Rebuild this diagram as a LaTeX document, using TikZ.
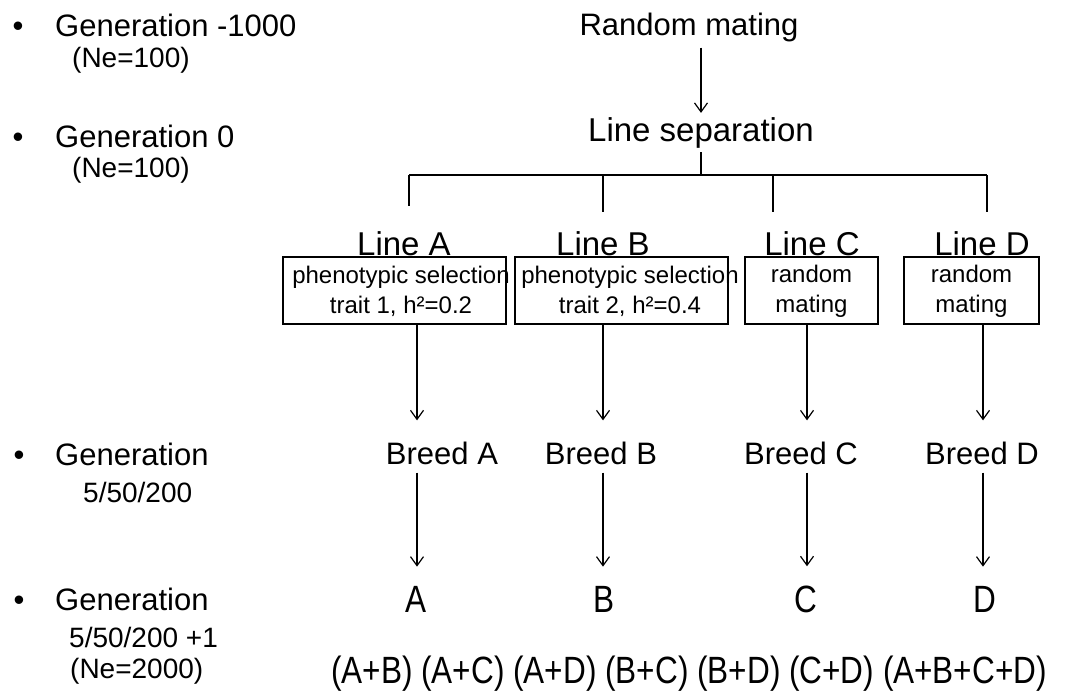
\documentclass[tikz,border=0pt]{standalone}
\usepackage{fontspec}
\setmainfont{Liberation Sans}
\newfontfamily\narrowfont[FakeStretch=0.83]{Liberation Sans}
\usetikzlibrary{arrows.meta}
\begin{document}
\begin{tikzpicture}[x=1pt,y=-1pt,
  big/.style={font=\fontsize{31}{37}\selectfont, inner sep=0pt, anchor=base},
  bigger/.style={font=\fontsize{33}{39}\selectfont, inner sep=0pt, anchor=base},
  small/.style={font=\fontsize{28}{33}\selectfont, inner sep=0pt, anchor=base west},
  boxtext/.style={font=\fontsize{24}{30}\selectfont, inner sep=0pt, align=center},
  nar/.style={font=\narrowfont\fontsize{38}{44}\selectfont, inner sep=0pt, anchor=base},
  box/.style={draw, line width=2pt, inner sep=0pt},
  conn/.style={line width=1.8pt},
  arr/.style={line width=1.2pt, -{Straight Barb[length=9pt,width=13pt]}}
]
\useasboundingbox[fill=white] (0,0) rectangle (1066,693);

% left column
\node[big] (b1) at (18,37) {•};
\node[big, anchor=base west] (g1) at (55,37) {Generation -1000};
\node[small] (n1) at (72,68) {(Ne=100)};
\node[big] (b2) at (18,147) {•};
\node[big, anchor=base west] (g2) at (55,147) {Generation 0};
\node[small] (n2) at (72,177) {(Ne=100)};
\node[big] (b3) at (19,465) {•};
\node[big, anchor=base west] (g3) at (55,465) {Generation};
\node[small] (n3) at (83,502) {5/50/200};
\node[big] (b4) at (19,610) {•};
\node[big, anchor=base west] (g4) at (55,610) {Generation};
\node[small] (n4) at (69,647) {5/50/200 +1};
\node[small] (n5) at (70,678) {(Ne=2000)};

% top
\coordinate (cM) at (701,0);
\node[big] (rm) at (689,36) {Random mating};
\node[bigger] (ls) at (701,141) {Line separation};
\draw[arr, shorten <=5pt, shorten >=4pt] (rm.south -| cM) -- (ls.north -| cM);
\coordinate (hub) at (701,175);
\draw[conn, shorten <=4pt] (ls.south -| cM) -- (hub);

% line labels
\node[bigger] (lineA) at (404,255) {Line A};
\node[bigger] (lineB) at (603,255) {Line B};
\node[bigger] (lineC) at (812,255) {Line C};
\node[bigger] (lineD) at (982,255) {Line D};

% tree
\coordinate (tA) at (409,175);
\coordinate (tB) at (603,175);
\coordinate (tC) at (773,175);
\coordinate (tD) at (987,175);
\draw[conn] (tA) -- (tD);
\draw[conn, shorten >=25pt] (tA) -- (lineA.north -| tA);
\draw[conn, shorten >=19pt] (tB) -- (lineB.north -| tB);
\draw[conn, shorten >=19pt] (tC) -- (lineC.north -| tC);
\draw[conn, shorten >=19pt] (tD) -- (lineD.north -| tD);

% boxes
\node[box, minimum width=223pt, minimum height=67pt] (boxA) at (394.5,290.5) {};
\node[box, minimum width=213pt, minimum height=67pt] (boxB) at (621.5,290.5) {};
\node[box, minimum width=133pt, minimum height=67pt] (boxC) at (811.5,290.5) {};
\node[box, minimum width=135pt, minimum height=67pt] (boxD) at (971.5,290.5) {};
\node[boxtext] (xA) at (401,291) {phenotypic selection\\trait 1, h²=0.2};
\node[boxtext] (xB) at (630,291) {phenotypic selection\\trait 2, h²=0.4};
\node[boxtext] (xC) at (811.5,291) {random\\mating};
\node[boxtext] (xD) at (971.5,291) {random\\mating};

% breeds
\coordinate (cA) at (417,0);
\coordinate (cB) at (603,0);
\coordinate (cC) at (807,0);
\coordinate (cD) at (983,0);
\node[big] (brA) at (442,464) {Breed A};
\node[big] (brB) at (601,464) {Breed B};
\node[big] (brC) at (801,464) {Breed C};
\node[big] (brD) at (982,464) {Breed D};
\draw[arr, shorten >=21pt] (boxA.south -| cA) -- (brA.north -| cA);
\draw[arr, shorten >=21pt] (boxB.south -| cB) -- (brB.north -| cB);
\draw[arr, shorten >=21pt] (boxC.south -| cC) -- (brC.north -| cC);
\draw[arr, shorten >=21pt] (boxD.south -| cD) -- (brD.north -| cD);

% letters
\node[nar] (lA) at (416,612) {A};
\node[nar] (lB) at (604,612) {B};
\node[nar] (lC) at (806,612) {C};
\node[nar] (lD) at (985,612) {D};
\draw[arr, shorten <=8pt, shorten >=19pt] (brA.south -| cA) -- (lA.north -| cA);
\draw[arr, shorten <=8pt, shorten >=19pt] (brB.south -| cB) -- (lB.north -| cB);
\draw[arr, shorten <=8pt, shorten >=19pt] (brC.south -| cC) -- (lC.north -| cC);
\draw[arr, shorten <=8pt, shorten >=19pt] (brD.south -| cD) -- (lD.north -| cD);

\node[nar] (pairs) at (689,683) {(A+B) (A+C) (A+D) (B+C) (B+D) (C+D) (A+B+C+D)};
\end{tikzpicture}
\end{document}
